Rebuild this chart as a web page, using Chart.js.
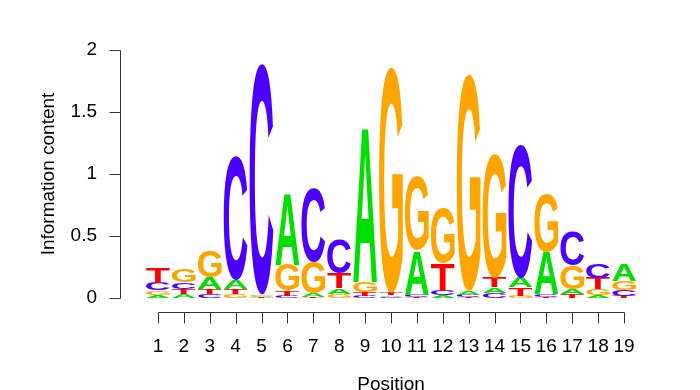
<!DOCTYPE html>
<html>
<head>
<meta charset="UTF-8">
<title>Sequence logo</title>
<script src="https://cdn.jsdelivr.net/npm/chart.js@4.4.1/dist/chart.umd.min.js"></script>
<style>
  html, body { margin: 0; padding: 0; background: #fff; }
  canvas { display: block; }
</style>
</head>
<body>
<canvas id="logo" width="700" height="390"></canvas>
<script>
// information content per letter at each position
const positions = [1, 2, 3, 4, 5, 6, 7, 8, 9, 10, 11, 12, 13, 14, 15, 16, 17, 18, 19];
const heightA = [0.025, 0.03, 0.09, 0.07, 0.01, 0.58, 0.03, 0.045, 1.25, 0.012, 0.36, 0.02, 0.03, 0.045, 0.08, 0.34, 0.04, 0.02, 0.13];
const heightC = [0.065, 0.055, 0.03, 1.0, 1.86, 0.015, 0.59, 0.27, 0.02, 0.01, 0.015, 0.04, 0.015, 0.04, 1.07, 0.02, 0.27, 0.115, 0.05];
const heightG = [0.035, 0.1, 0.21, 0.03, 0.012, 0.21, 0.25, 0.035, 0.08, 1.82, 0.59, 0.45, 1.75, 1.0, 0.02, 0.47, 0.19, 0.05, 0.07];
const heightT = [0.12, 0.04, 0.045, 0.045, 0.008, 0.045, 0.01, 0.12, 0.03, 0.02, 0.01, 0.22, 0.01, 0.08, 0.065, 0.01, 0.03, 0.09, 0.015];
const yTicks = [0, 0.5, 1, 1.5, 2];
const yTickLabels = ['0', '0.5', '1', '1.5', '2'];
const letterColors = { A: '#00E000', C: '#4B00FF', G: '#FFA500', T: '#FF0000' };

const labelFont = { family: '"Liberation Sans", Arial, sans-serif', size: 19 };

function drawLetter(ctx, ch, left, top, w, h) {
    if (h <= 0) return;
    ctx.save();
    ctx.font = 'bold 100px "Liberation Sans", Arial, sans-serif';
    ctx.textAlign = 'left';
    ctx.textBaseline = 'alphabetic';
    const m = ctx.measureText(ch);
    const gw = m.actualBoundingBoxLeft + m.actualBoundingBoxRight;
    const gh = m.actualBoundingBoxAscent + m.actualBoundingBoxDescent;
    ctx.translate(left, top);
    ctx.scale(w / gw, h / gh);
    ctx.fillStyle = letterColors[ch];
    ctx.fillText(ch, m.actualBoundingBoxLeft, m.actualBoundingBoxAscent);
    ctx.restore();
}

const logoPlugin = {
    id: 'logo',
    afterDatasetsDraw(chart) {
        const { ctx, scales: { x, y } } = chart;
        const colW = x.getPixelForValue(2) - x.getPixelForValue(1);
        positions.forEach((pos, i) => {
            const stack = [['A', heightA[i]], ['C', heightC[i]], ['G', heightG[i]], ['T', heightT[i]]]
                .sort((a, b) => a[1] - b[1]);
            let base = 0;
            stack.forEach(([ch, h]) => {
                const yBottom = y.getPixelForValue(base);
                const yTop = y.getPixelForValue(base + h);
                base += h;
                drawLetter(ctx, ch, x.getPixelForValue(pos) - colW * 0.46, yTop, colW * 0.92, yBottom - yTop);
            });
        });
    }
};

// R style detached axes
const axisPlugin = {
    id: 'rAxes',
    afterDraw(chart) {
        const { ctx, chartArea, scales: { x, y } } = chart;
        const axisX = Math.round(chartArea.left - 25) + 0.5;
        const axisY = Math.round(chartArea.bottom + 14) + 0.5;
        const tick = 11;
        ctx.save();
        ctx.strokeStyle = '#333';
        ctx.lineWidth = 1;
        ctx.beginPath();
        ctx.moveTo(axisX, Math.round(y.getPixelForValue(yTicks[0])) + 0.5);
        ctx.lineTo(axisX, Math.round(y.getPixelForValue(yTicks[yTicks.length - 1])) + 0.5);
        yTicks.forEach(v => {
            const py = Math.round(y.getPixelForValue(v)) + 0.5;
            ctx.moveTo(axisX - tick, py);
            ctx.lineTo(axisX, py);
        });
        ctx.moveTo(Math.round(x.getPixelForValue(positions[0])) + 0.5, axisY);
        ctx.lineTo(Math.round(x.getPixelForValue(positions[positions.length - 1])) + 0.5, axisY);
        positions.forEach(v => {
            const px = Math.round(x.getPixelForValue(v)) + 0.5;
            ctx.moveTo(px, axisY);
            ctx.lineTo(px, axisY + tick);
        });
        ctx.stroke();
        ctx.restore();
    }
};

new Chart(document.getElementById('logo').getContext('2d'), {
    type: 'scatter',
    data: { datasets: [] },
    options: {
        responsive: false,
        animation: false,
        devicePixelRatio: 1,
        layout: { padding: { left: 0, right: 63, top: 50, bottom: 0 } },
        plugins: { legend: { display: false }, tooltip: { enabled: false } },
        scales: {
            x: {
                type: 'linear',
                min: 0.5,
                max: 19.5,
                grid: { display: false, drawTicks: false },
                border: { display: false },
                afterBuildTicks: s => { s.ticks = positions.map(v => ({ value: v })); },
                afterFit: s => { s.height = 92; },
                ticks: {
                    padding: 37,
                    autoSkip: false,
                    maxRotation: 0,
                    color: '#000',
                    font: labelFont,
                    callback: v => String(v)
                },
                title: {
                    display: true,
                    text: 'Position',
                    color: '#000',
                    font: { ...labelFont, lineHeight: 0.5 },
                    padding: 0
                }
            },
            y: {
                type: 'linear',
                min: 0,
                max: 2,
                grid: { display: false, drawTicks: false },
                border: { display: false },
                afterBuildTicks: s => { s.ticks = yTicks.map(v => ({ value: v })); },
                afterFit: s => { s.width = 145; s.paddingTop = 0; s.paddingBottom = 0; },
                ticks: {
                    padding: 48,
                    color: '#000',
                    font: labelFont,
                    callback: (v, i) => yTickLabels[i]
                },
                title: {
                    display: true,
                    text: 'Information content',
                    color: '#000',
                    font: labelFont,
                    padding: { top: 37, bottom: 0 }
                }
            }
        }
    },
    plugins: [logoPlugin, axisPlugin]
});
</script>
</body>
</html>
